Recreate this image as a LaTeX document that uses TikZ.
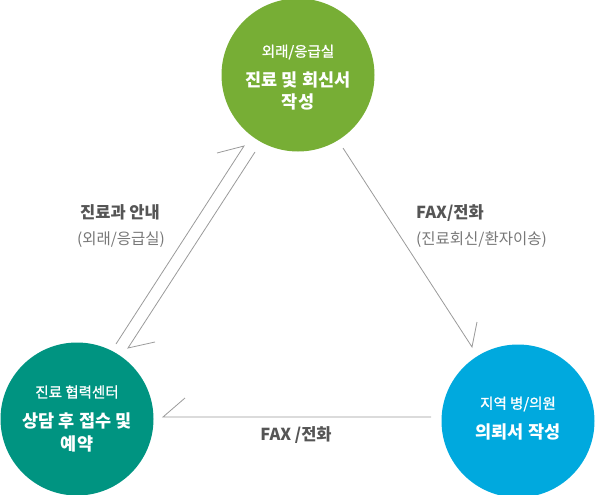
\documentclass[tikz,border=0pt]{standalone}
\usepackage{fontspec}
\setmainfont{Noto Sans CJK KR}
\newfontfamily\medfont{Noto Sans CJK KR}[FakeBold=1.2]
\definecolor{cgreen}{HTML}{77AE35}
\definecolor{cteal}{HTML}{009481}
\definecolor{cblue}{HTML}{00A9DE}
\definecolor{cline}{HTML}{9A9A9A}
\definecolor{clab}{HTML}{555555}
\definecolor{csub}{HTML}{777777}
\tikzset{
  bubble/.style={circle, inner sep=0pt, minimum size=153pt},
  small/.style={text=white, font=\medfont\fontsize{14.5}{17}\selectfont, inner sep=0pt},
  big/.style={text=white, font=\fontsize{17.5}{21}\selectfont\bfseries, inner sep=0pt},
  lab/.style={text=clab, font=\fontsize{16.5}{19}\selectfont\bfseries, inner sep=0pt},
  sub/.style={text=csub, font=\fontsize{15.5}{18}\selectfont, inner sep=0pt},
  conn/.style={draw=cline, line width=0.8pt, line join=miter}
}
\begin{document}
\begin{tikzpicture}[x=1pt,y=-1pt]
\useasboundingbox (0,0) rectangle (595,495);
% circles
\node[bubble, fill=cgreen] (top) at (298,75) {};
\node[bubble, fill=cteal] (left) at (77,419) {};
\node[bubble, fill=cblue] (right) at (518,421) {};
% circle texts
\node[small] (t1) at (298,52) {외래/응급실};
\node[big] (t2) at (298,80) {진료 및 회신서};
\node[big] (t3) at (298,102) {작성};
\node[small] (l1) at (77,392) {진료 협력센터};
\node[big] (l2) at (77,421) {상담 후 접수 및};
\node[big] (l3) at (77,444) {예약};
\node[small] (r1) at (518,404) {지역 병/의원};
\node[big] (r2) at (518,432) {의뢰서 작성};
% labels
\node[lab] (la1) at (120,212) {진료과 안내};
\node[sub] (la2) at (121,240) {(외래/응급실)};
\node[lab, anchor=west] (lb1) at (416,213) {FAX/전화};
\node[sub, anchor=west] (lb2) at (416,240) {(진료회신/환자이송)};
\node[lab] (lc1) at (296,435) {FAX /전화};
% connector end points
\coordinate (aS) at (116,344);
\coordinate (aT) at (244,146);
\coordinate (aB) at (217,153);
\coordinate (bS) at (255,152);
\coordinate (bT) at (128,348);
\coordinate (bB) at (155,342);
\coordinate (cS) at (343,148);
\coordinate (cT) at (472,347);
\coordinate (cB) at (477,322);
\coordinate (dS) at (431,417);
\coordinate (dT) at (163,417);
\coordinate (dB) at (185,398);
% connectors (half arrow heads)
\draw[conn] (aS) -- (aT) -- (aB);
\draw[conn] (bS) -- (bT) -- (bB);
\draw[conn] (cS) -- (cT) -- (cB);
\draw[conn] (dS) -- (dT) -- (dB);
\end{tikzpicture}
\end{document}
